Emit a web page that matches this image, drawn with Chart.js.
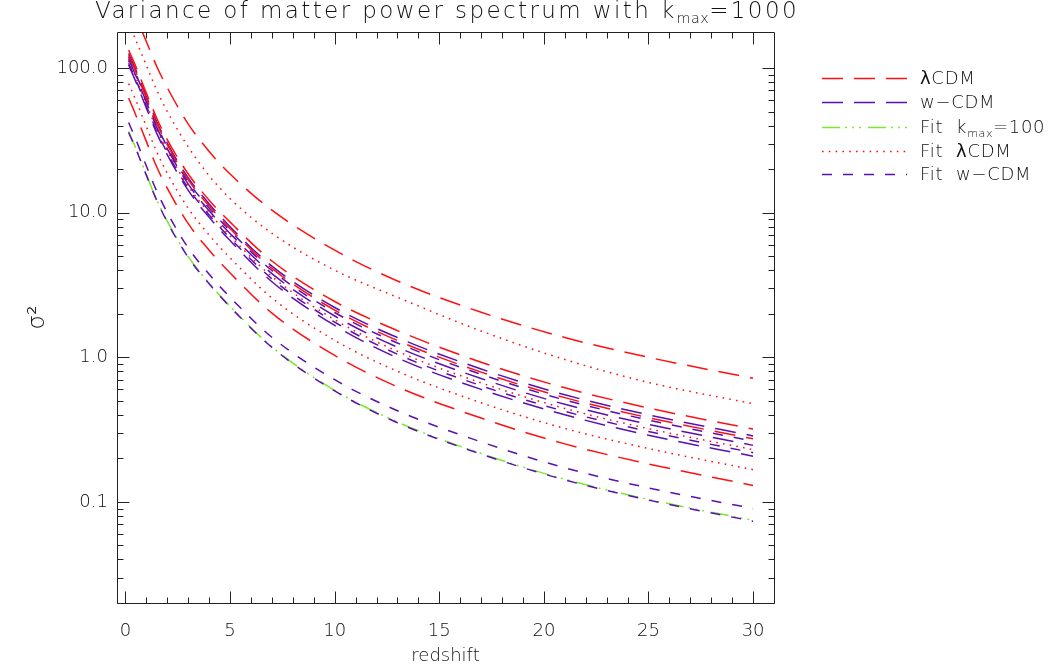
<!DOCTYPE html>
<html><head><meta charset="utf-8">
<script src="https://cdn.jsdelivr.net/npm/chart.js@4.4.1/dist/chart.umd.min.js"></script>
<style>
html,body{margin:0;padding:0;background:#fff;}
#wrap{position:relative;width:1048px;height:667px;overflow:hidden;}
#c{position:absolute;left:0;top:0;}
.t{position:absolute;font-family:'DejaVu Sans',sans-serif;font-weight:200;color:#111;white-space:pre;}
#title{left:0;width:894px;text-align:center;top:-3px;font-size:23px;letter-spacing:2.4px;}
#title sub,.lg sub{font-size:62%;vertical-align:-0.35em;letter-spacing:0.5px;}
.lg{position:absolute;left:822px;height:24px;}
.lg svg{position:absolute;left:0;top:0;}
.lg span{position:absolute;left:98px;top:0px;font-size:18px;letter-spacing:0.7px;line-height:24px;}
</style></head>
<body>
<div id="wrap">
<canvas id="c" width="1048" height="667"></canvas>
<div class="t" id="title">Variance of matter power spectrum with k<sub>max</sub>=1000</div>
<div id="legend"></div>
</div>
<script>
// ---- data ----
const zValues = [0.15, 0.5, 1, 1.5, 2, 3, 4, 5, 7, 10, 13, 17, 21, 25, 30];

const lcdm1 = [290, 225, 152, 102, 73, 41, 26.5, 18.5, 10.4, 5.5, 3.37, 2.05, 1.37, 1.0, 0.715];
const lcdm2 = [133, 102, 67, 44.8, 31.9, 18.5, 12.2, 8.6, 4.63, 2.43, 1.53, 0.925, 0.615, 0.446, 0.319];
const lcdm3 = [122, 93.7, 61.8, 41.2, 29.4, 16.85, 11.1, 7.75, 4.12, 2.12, 1.305, 0.79, 0.526, 0.382, 0.273];
const lcdm4 = [62, 47, 31, 20.6, 14.7, 8.4, 5.5, 3.83, 2.02, 1.03, 0.625, 0.38, 0.252, 0.183, 0.13];

const wcdm1 = [126, 96.5, 63.6, 42.4, 30.2, 17.4, 11.5, 8.0, 4.27, 2.21, 1.37, 0.83, 0.551, 0.40, 0.286];
const wcdm2 = [115, 88, 58, 38.7, 27.6, 15.75, 10.3, 7.18, 3.79, 1.93, 1.175, 0.713, 0.473, 0.344, 0.246];
const wcdm3 = [105, 80, 52.8, 35.2, 25.1, 14.25, 9.28, 6.41, 3.33, 1.66, 0.99, 0.60, 0.40, 0.289, 0.207];

const fitK100 = [36.5, 27.8, 18.3, 12.2, 8.7, 4.96, 3.25, 2.25, 1.18, 0.59, 0.357, 0.216, 0.1435, 0.1042, 0.0745];

const fitL1 = [205, 155, 104, 70, 50, 28.5, 18, 12.5, 7.2, 4.0, 2.6, 1.52, 0.965, 0.67, 0.477];
const fitL2 = [112, 85.5, 56.4, 37.6, 26.8, 15.25, 9.98, 6.91, 3.62, 1.82, 1.10, 0.666, 0.443, 0.321, 0.23];
const fitL3 = [78, 59.6, 39.3, 26.2, 18.7, 10.7, 7.0, 4.87, 2.57, 1.31, 0.80, 0.485, 0.322, 0.234, 0.167];

const fitW1 = [119, 91, 60, 40, 28.5, 16.35, 10.75, 7.5, 3.98, 2.04, 1.255, 0.762, 0.507, 0.368, 0.263];
const fitW2 = [108, 82.8, 54.6, 36.4, 25.9, 14.76, 9.64, 6.67, 3.49, 1.75, 1.05, 0.636, 0.423, 0.307, 0.219];
const fitW3 = [42, 31.9, 21, 14, 10, 5.7, 3.75, 2.6, 1.375, 0.70, 0.427, 0.26, 0.172, 0.125, 0.09];
const fitW4 = [35.8, 27.5, 18.1, 12.1, 8.6, 4.9, 3.22, 2.23, 1.17, 0.585, 0.353, 0.214, 0.142, 0.103, 0.0735];

const xTickValues = [0, 5, 10, 15, 20, 25, 30];
const xTickLabels = ['0', '5', '10', '15', '20', '25', '30'];
const yTickValues = [0.1, 1, 10, 100];
const yTickLabels = ['0.1', '1.0', '10.0', '100.0'];

const legendLabels = ['<b>λ</b>CDM', 'w−CDM', 'Fit  k<sub>max</sub>=100', 'Fit  <b>λ</b>CDM', 'Fit  w−CDM'];

// ---- styles ----
const RED = '#ff1010', PURPLE = '#5a10b0', GREEN = '#76ea2e';
const styles = {
  lcdm:  {color: RED,    dash: [21, 11]},
  wcdm:  {color: PURPLE, dash: [21, 11]},
  k100:  {color: GREEN,  dash: [18, 5, 2, 5, 2, 5, 2, 7]},
  fitl:  {color: RED,    dash: [1.6, 5.2]},
  fitw:  {color: PURPLE, dash: [10, 11]}
};
const series = [
  ['lcdm', lcdm1], ['lcdm', lcdm2], ['lcdm', lcdm3], ['lcdm', lcdm4],
  ['wcdm', wcdm1], ['wcdm', wcdm2], ['wcdm', wcdm3],
  ['fitl', fitL1], ['fitl', fitL2], ['fitl', fitL3],
  ['fitw', fitW1], ['fitw', fitW2], ['fitw', fitW3], ['fitw', fitW4],
  ['k100', fitK100]
];

const datasets = series.map(([k, vals]) => ({
  data: zValues.map((z, i) => ({x: z, y: vals[i]})),
  borderColor: styles[k].color,
  borderDash: styles[k].dash,
  borderWidth: 1.5,
  pointRadius: 0,
  fill: false,
  cubicInterpolationMode: 'monotone'
}));

// ---- legend (html) ----
const legendKeys = ['lcdm', 'wcdm', 'k100', 'fitl', 'fitw'];
const legendY = [78, 102, 127, 151, 174];
const lgEl = document.getElementById('legend');
legendKeys.forEach((k, i) => {
  const d = document.createElement('div');
  d.className = 'lg';
  d.style.top = (legendY[i] - 12) + 'px';
  d.innerHTML = '<svg width="90" height="24"><line x1="0" y1="12.5" x2="85" y2="12.5" stroke="' + styles[k].color +
    '" stroke-width="1.5" stroke-dasharray="' + styles[k].dash.join(' ') + '"/></svg>' +
    '<span class="t" style="left:98px">' + legendLabels[i] + '</span>';
  lgEl.appendChild(d);
});

// ---- inward ticks and frame ----
const xMinor = [];
for (let v = 1; v < 31; v++) if (v % 5 !== 0) xMinor.push(v);
const yMinor = [];
[0.01, 0.1, 1, 10, 100].forEach(d => { for (let m = 2; m <= 9; m++) yMinor.push(m * d); });

const frameTicks = {
  id: 'frameTicks',
  afterDraw(chart) {
    const {ctx, chartArea: a, scales: {x, y}} = chart;
    ctx.save();
    ctx.strokeStyle = '#222';
    ctx.lineWidth = 1;
    ctx.beginPath();
    const L = Math.round(a.left) + 0.5, R = Math.round(a.right) + 0.5;
    const T = Math.round(a.top) + 0.5, B = Math.round(a.bottom) + 0.5;
    ctx.rect(L, T, R - L, B - T);
    const xt = (v, len) => {
      const px = Math.round(x.getPixelForValue(v)) + 0.5;
      ctx.moveTo(px, B); ctx.lineTo(px, B - len);
      ctx.moveTo(px, T); ctx.lineTo(px, T + len);
    };
    const yt = (v, len) => {
      if (v < y.min || v > y.max) return;
      const py = Math.round(y.getPixelForValue(v)) + 0.5;
      ctx.moveTo(L, py); ctx.lineTo(L + len, py);
      ctx.moveTo(R, py); ctx.lineTo(R - len, py);
    };
    xTickValues.forEach(v => xt(v, 12));
    xMinor.forEach(v => xt(v, 6));
    yTickValues.forEach(v => yt(v, 12));
    yMinor.forEach(v => yt(v, 6));
    ctx.stroke();
    ctx.restore();
  }
};

const tickFont = {family: "'DejaVu Sans', sans-serif", size: 18, weight: '200'};

new Chart(document.getElementById('c'), {
  type: 'line',
  data: {datasets},
  plugins: [frameTicks],
  options: {
    responsive: false,
    animation: false,
    devicePixelRatio: 1,
    layout: {padding: {left: 0, right: 274, top: 32, bottom: 0}},
    plugins: {legend: {display: false}, tooltip: {enabled: false}, title: {display: false}},
    scales: {
      x: {
        type: 'linear', min: -0.406, max: 31.0,
        grid: {display: false, drawTicks: false},
        border: {display: false},
        afterBuildTicks: s => { s.ticks = xTickValues.map(v => ({value: v})); },
        afterFit: s => { s.height = 64; },
        ticks: {font: tickFont, color: '#111', padding: 18, maxRotation: 0,
                callback: (v, i) => xTickLabels[i]},
        title: {display: true, text: 'redshift', font: {family: "'DejaVu Sans', sans-serif", size: 18, weight: '200'},
                color: '#111', padding: {top: 0, bottom: 0}}
      },
      y: {
        type: 'logarithmic', min: 0.02, max: 177.5,
        grid: {display: false, drawTicks: false},
        border: {display: false},
        afterBuildTicks: s => { s.ticks = yTickValues.map(v => ({value: v})); },
        afterFit: s => { s.width = 117; },
        ticks: {font: tickFont, color: '#111', padding: 9,
                callback: (v, i) => yTickLabels[i]},
        title: {display: true, text: 'σ²', font: {family: "'DejaVu Sans', sans-serif", size: 23, weight: '200'},
                color: '#111', padding: {top: 24, bottom: 0}}
      }
    }
  }
});
</script>
</body></html>
